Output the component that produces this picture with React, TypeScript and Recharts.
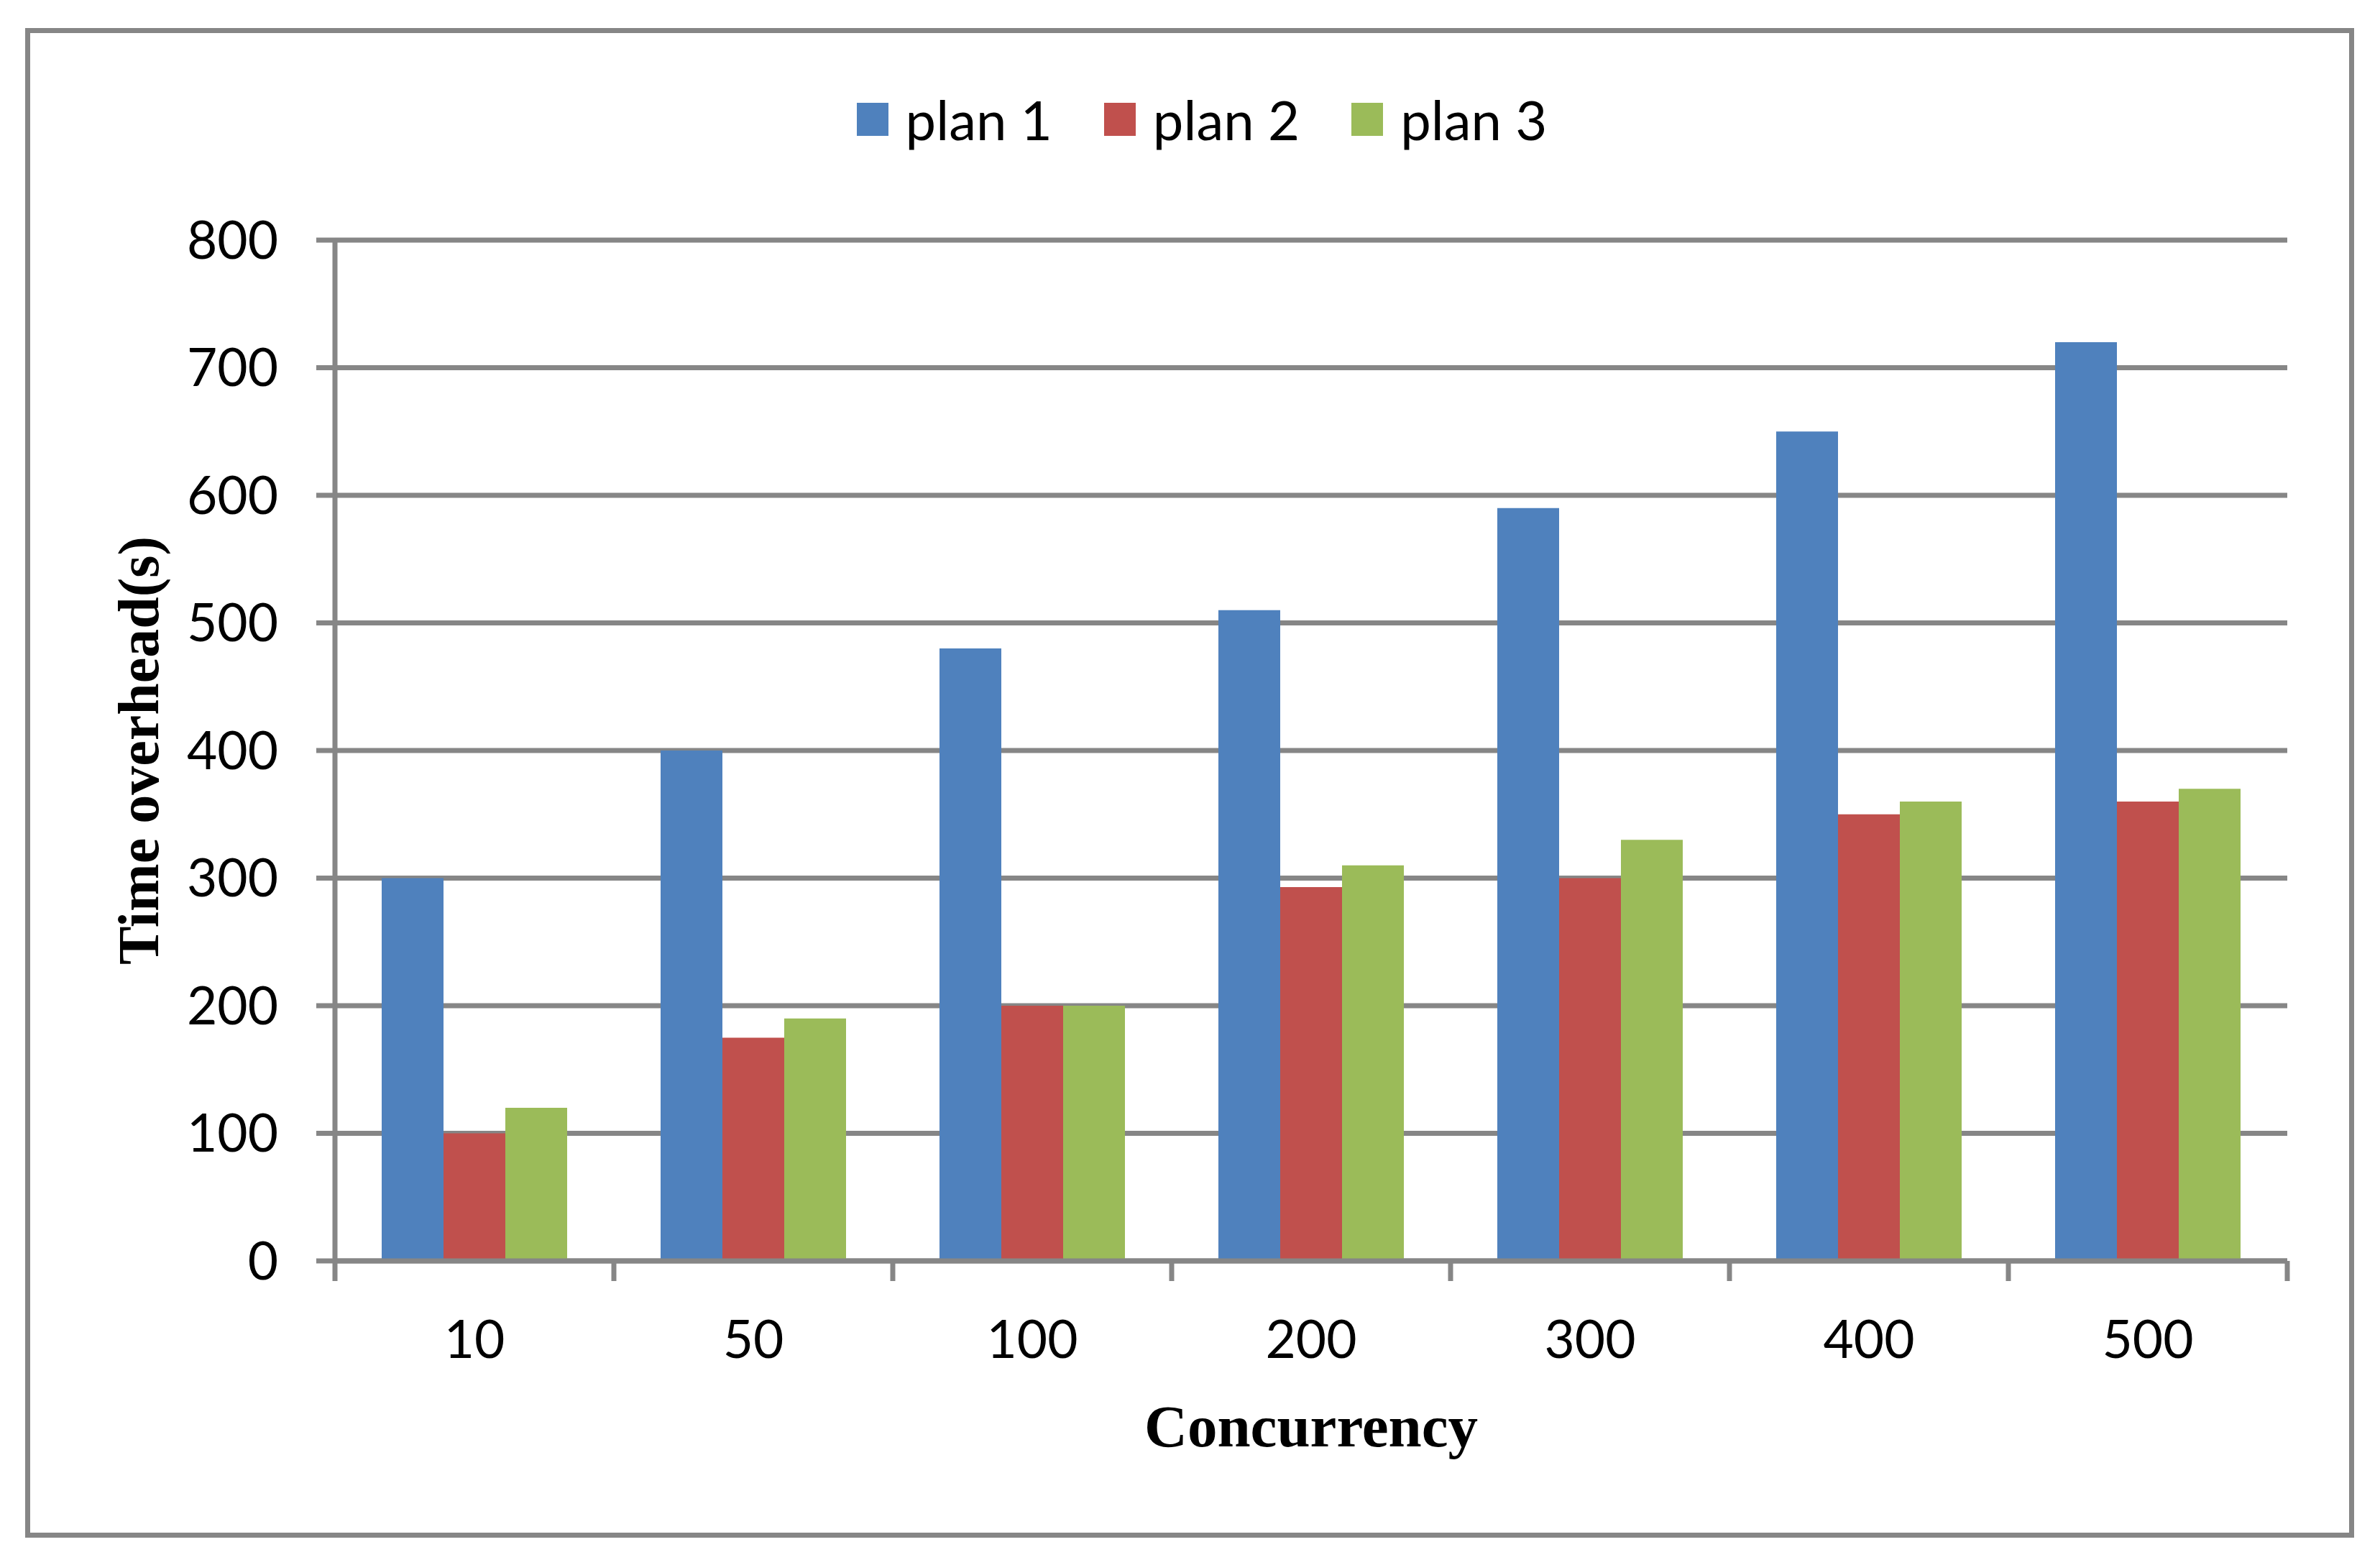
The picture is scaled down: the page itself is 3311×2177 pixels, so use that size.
import React from "react";
import { BarChart, Bar, XAxis, YAxis, CartesianGrid, Legend } from "recharts";

const categories = ["10", "50", "100", "200", "300", "400", "500"];
const plan1 = [300, 400, 480, 510, 590, 650, 720];
const plan2 = [100, 175, 200, 293, 300, 350, 360];
const plan3 = [120, 190, 200, 310, 330, 360, 370];
const yTicks = [0, 100, 200, 300, 400, 500, 600, 700, 800];

const data = categories.map((c, i) => ({
  concurrency: c,
  plan1: plan1[i],
  plan2: plan2[i],
  plan3: plan3[i],
}));

const GRAY = "#868686";
const X_TICK_SIZE = 28;
const X_TICK_MARGIN = 55;

// category labels plus the boundary tick marks between groups
const CategoryTick = (props: any) => {
  const { x, y, payload, index, visibleTicksCount } = props;
  const half = payload.offset || 0;
  const top = y - X_TICK_SIZE - X_TICK_MARGIN;
  const bottom = top + X_TICK_SIZE;
  return (
    <g>
      <line x1={x - half} x2={x - half} y1={top} y2={bottom} stroke={GRAY} strokeWidth={7} />
      {index === visibleTicksCount - 1 && (
        <line x1={x + half} x2={x + half} y1={top} y2={bottom} stroke={GRAY} strokeWidth={7} />
      )}
      <text x={x} y={y} dy="0.71em" textAnchor="middle" fill="#000" fontSize={73} fontFamily="Lato">
        {payload.value}
      </text>
    </g>
  );
};

const renderLegend = (props: any) => {
  const { payload } = props;
  return (
    <div style={{ display: "flex", justifyContent: "center", paddingLeft: 33 }}>
      {payload.map((entry: any, i: number) => (
        <div key={i} style={{ display: "flex", alignItems: "center", marginLeft: i ? 72 : 0 }}>
          <span style={{ display: "inline-block", width: 44, height: 46, background: entry.color, marginRight: 24 }} />
          <span style={{ fontFamily: "Lato", fontSize: 76, lineHeight: 1, color: "#000" }}>{entry.value}</span>
        </div>
      ))}
    </div>
  );
};

const YLabel = (props: any) => {
  const { viewBox } = props;
  const cx = viewBox.x + 220;
  const cy = viewBox.y + viewBox.height / 2;
  return (
    <text
      x={cx}
      y={cy}
      transform={`rotate(-90, ${cx}, ${cy})`}
      textAnchor="middle"
      fontFamily="Liberation Serif"
      fontWeight="bold"
      fontSize={80}
      fill="#000"
    >
      Time overhead(s)
    </text>
  );
};

const XLabel = (props: any) => {
  const { viewBox } = props;
  return (
    <text
      x={viewBox.x + viewBox.width / 2}
      y={viewBox.y + 258}
      textAnchor="middle"
      fontFamily="Liberation Serif"
      fontWeight="bold"
      fontSize={83}
      fill="#000"
    >
      Concurrency
    </text>
  );
};

export default function App() {
  return (
    <div style={{ position: "absolute", left: 0, top: 0, width: 3311, height: 2177, background: "#fff" }}>
      <div
        style={{
          position: "absolute",
          left: 35,
          top: 39,
          width: 3240,
          height: 2100,
          boxSizing: "border-box",
          border: `7px solid ${GRAY}`,
        }}
      />
      <div style={{ position: "absolute", left: 0, top: 0 }}>
        <BarChart
          width={3311}
          height={2177}
          data={data}
          margin={{ top: 334, right: 129, bottom: 223, left: 0 }}
          barCategoryGap={65}
          barGap={0}
        >
          <CartesianGrid vertical={false} stroke={GRAY} strokeWidth={7} />
          <XAxis
            dataKey="concurrency"
            height={200}
            axisLine={{ stroke: GRAY, strokeWidth: 7 }}
            tickLine={false}
            tickSize={X_TICK_SIZE}
            tickMargin={X_TICK_MARGIN}
            tick={<CategoryTick />}
            interval={0}
            label={<XLabel />}
          />
          <YAxis
            width={466}
            domain={[0, 800]}
            ticks={yTicks}
            axisLine={{ stroke: GRAY, strokeWidth: 7 }}
            tickLine={{ stroke: GRAY, strokeWidth: 7 }}
            tickSize={26}
            tickMargin={53}
            tick={{ fill: "#000", fontSize: 73, fontFamily: "Lato" }}
            label={<YLabel />}
          />
          <Legend
            layout="horizontal"
            verticalAlign="middle"
            align="center"
            wrapperStyle={{ top: 128, left: 0, width: 3311 }}
            content={renderLegend}
          />
          <Bar dataKey="plan1" name="plan 1" fill="#4F81BD" isAnimationActive={false} />
          <Bar dataKey="plan2" name="plan 2" fill="#C0504D" isAnimationActive={false} />
          <Bar dataKey="plan3" name="plan 3" fill="#9BBB59" isAnimationActive={false} />
        </BarChart>
      </div>
    </div>
  );
}
